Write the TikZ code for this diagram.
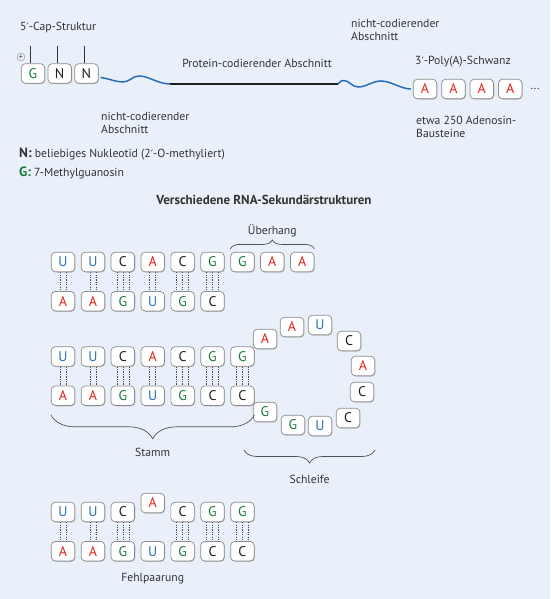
\documentclass[tikz,border=0pt]{standalone}
\usepackage{fontspec}
\setmainfont{PT Sans}
\newfontfamily\primefont{DejaVu Sans}
\usetikzlibrary{positioning, decorations.pathreplacing, shadows}
\definecolor{bgblue}{HTML}{E9F0F9}
\definecolor{ntblue}{HTML}{2A6EBB}
\definecolor{ntred}{HTML}{E2231A}
\definecolor{ntgreen}{HTML}{1E7A3C}
\definecolor{ntblack}{HTML}{1E1E1E}
\definecolor{boxgray}{HTML}{8C8C8C}
\definecolor{txtgray}{HTML}{333333}
\newcommand{\primechar}{{\primefont\fontsize{10}{10}\selectfont ′}}
\newcommand{\twobond}[2]{%
  \draw[bond] ([xshift=-3pt]#1.south) -- ([xshift=-3pt]#2.north);
  \draw[bond] ([xshift=3pt]#1.south) -- ([xshift=3pt]#2.north);}
\newcommand{\threebond}[2]{%
  \draw[bond] ([xshift=-6pt]#1.south) -- ([xshift=-6pt]#2.north);
  \draw[bond] (#1.south) -- (#2.north);
  \draw[bond] ([xshift=6pt]#1.south) -- ([xshift=6pt]#2.north);}

\begin{document}
\begin{tikzpicture}[x=1pt, y=-1pt,
    node distance=19pt and 5.7pt,
    nt/.style={draw=boxgray, fill=white, text=#1, rounded corners=4pt, minimum width=23.5pt, minimum height=19.5pt,
      inner sep=0pt, line width=0.7pt, font=\fontsize{14}{14}\selectfont,
      drop shadow={shadow xshift=0.7pt, shadow yshift=-0.8pt, fill=black!40, opacity=0.6}},
    lbl/.style={text=txtgray, font=\fontsize{11.7}{13}\selectfont, inner sep=0pt},
    bond/.style={draw=black!70, line width=0.6pt, dash pattern=on 1.3pt off 1.1pt},
    capline/.style={draw=txtgray, line width=0.6pt},
    wave/.style={draw=ntblue, line width=1.5pt},
    strand/.style={draw=ntblack, line width=1.5pt},
    brace/.style={decorate, decoration={brace, amplitude=#1}, draw=txtgray!85, line width=0.7pt}
  ]
  \fill[bgblue] (0,0) rectangle (550,599);
  \useasboundingbox (0,0) rectangle (550,599);

  % mRNA
  \node[lbl, anchor=west] (caplbl) at (20,28) {5\primechar-Cap-Struktur};
  \node[nt=ntgreen] (g) at (33,73.5) {G};
  \node[nt=ntblack, right=2.5pt of g] (n1) {N};
  \node[nt=ntblack, right=2.5pt of n1] (n2) {N};
  \draw[capline] ([xshift=-3pt]g.north) -- ++(0,-17);
  \draw[capline] ([xshift=-2pt]n1.north) -- ++(0,-17);
  \draw[capline] ([xshift=-2pt]n2.north) -- ++(0,-17);
  \node[draw=boxgray, circle, inner sep=0pt, minimum size=8pt, text=txtgray, font=\fontsize{8}{8}\selectfont] (capplus) at (21,57) {+};

  \coordinate (cs) at (170,84);
  \coordinate (ce) at (338,84);
  \node[nt=ntred] (a1) at (425,89) {A};
  \node[nt=ntred, right=4.2pt of a1] (a2) {A};
  \node[nt=ntred, right=4.2pt of a2] (a3) {A};
  \node[nt=ntred, right=4.2pt of a3] (a4) {A};
  \node[lbl, right=8pt of a4] (dots) {...};

  \draw[wave] ([xshift=2pt,yshift=-4pt]n2.east) .. controls +(8,1) and +(-7,0) .. (123,82)
    .. controls +(7,0) and +(-7,0) .. (139,76) .. controls +(10,0) and +(-12,0) .. (cs);
  \draw[strand] (cs) -- (ce);
  \draw[wave] (ce) .. controls +(3,-3) and +(-3,0) .. (344,80.5) .. controls +(5,0) and +(-6,0) .. (358,87)
    .. controls +(8,0) and +(-8,0) .. (381,81) .. controls +(10,0) and +(-10,0) .. ([xshift=-2pt]a1.west);

  \node[lbl] (protlbl) at (257,63) {Protein-codierender Abschnitt};
  \node[lbl, anchor=west, align=left] (nc3lbl) at (351,30) {nicht-codierender\\Abschnitt};
  \node[lbl, anchor=west] (polylbl) at (415,62) {3\primechar-Poly(A)-Schwanz};
  \node[lbl, anchor=west, align=left] (adelbl) at (416,127) {etwa 250 Adenosin-\\Bausteine};
  \node[lbl, anchor=west, align=left] (nc5lbl) at (101,122.5) {nicht-codierender\\Abschnitt};
  \node[lbl, anchor=west] (nkey) at (19,154) {{\bfseries\fontsize{13.5}{13}\selectfont N:} beliebiges Nukleotid (2\primechar-O-methyliert)};
  \node[lbl, anchor=west] (gkey) at (19,173) {{\bfseries\fontsize{13.5}{13}\selectfont\color{ntgreen}G:} 7-Methylguanosin};
  \node[lbl, font=\fontsize{13}{13}\selectfont\bfseries] (title) at (264,200) {Verschiedene RNA-Sekundärstrukturen};

  % Ueberhang
  \node[nt=ntblue] (s1t1) at (63,262) {U};
  \node[nt=ntblue, right=of s1t1] (s1t2) {U};
  \node[nt=ntblack, right=of s1t2] (s1t3) {C};
  \node[nt=ntred, right=of s1t3] (s1t4) {A};
  \node[nt=ntblack, right=of s1t4] (s1t5) {C};
  \node[nt=ntgreen, right=of s1t5] (s1t6) {G};
  \node[nt=ntgreen, right=of s1t6] (s1t7) {G};
  \node[nt=ntred, right=of s1t7] (s1t8) {A};
  \node[nt=ntred, right=of s1t8] (s1t9) {A};
  \node[nt=ntred, below=of s1t1] (s1b1) {A};
  \node[nt=ntred, below=of s1t2] (s1b2) {A};
  \node[nt=ntgreen, below=of s1t3] (s1b3) {G};
  \node[nt=ntblue, below=of s1t4] (s1b4) {U};
  \node[nt=ntgreen, below=of s1t5] (s1b5) {G};
  \node[nt=ntblack, below=of s1t6] (s1b6) {C};
  \twobond{s1t1}{s1b1} \twobond{s1t2}{s1b2} \threebond{s1t3}{s1b3}
  \twobond{s1t4}{s1b4} \threebond{s1t5}{s1b5} \threebond{s1t6}{s1b6}
  \draw[brace=9pt] ([yshift=3pt]s1t7.north west) -- node[lbl, above=12pt] (uelbl) {Überhang} ([yshift=3pt]s1t9.north east);

  % Stamm und Schleife
  \node[nt=ntblue] (s2t1) at (63,356.5) {U};
  \node[nt=ntblue, right=of s2t1] (s2t2) {U};
  \node[nt=ntblack, right=of s2t2] (s2t3) {C};
  \node[nt=ntred, right=of s2t3] (s2t4) {A};
  \node[nt=ntblack, right=of s2t4] (s2t5) {C};
  \node[nt=ntgreen, right=of s2t5] (s2t6) {G};
  \node[nt=ntgreen, right=of s2t6] (s2t7) {G};
  \node[nt=ntred, below=of s2t1] (s2b1) {A};
  \node[nt=ntred, below=of s2t2] (s2b2) {A};
  \node[nt=ntgreen, below=of s2t3] (s2b3) {G};
  \node[nt=ntblue, below=of s2t4] (s2b4) {U};
  \node[nt=ntgreen, below=of s2t5] (s2b5) {G};
  \node[nt=ntblack, below=of s2t6] (s2b6) {C};
  \node[nt=ntblack, below=of s2t7] (s2b7) {C};
  \twobond{s2t1}{s2b1} \twobond{s2t2}{s2b2} \threebond{s2t3}{s2b3}
  \twobond{s2t4}{s2b4} \threebond{s2t5}{s2b5} \threebond{s2t6}{s2b6}
  \threebond{s2t7}{s2b7}
  \node[nt=ntred] (l1) at (265,339) {A};
  \node[nt=ntred] (l2) at (292,327) {A};
  \node[nt=ntblue] (l3) at (320,325) {U};
  \node[nt=ntblack] (l4) at (349,341) {C};
  \node[nt=ntred] (l5) at (363,366) {A};
  \node[nt=ntblack] (l6) at (362,392) {C};
  \node[nt=ntblack] (l7) at (348,418) {C};
  \node[nt=ntblue] (l8) at (320,426) {U};
  \node[nt=ntgreen] (l9) at (293,425) {G};
  \node[nt=ntgreen] (l10) at (265,412) {G};
  \draw[brace=24pt] ([yshift=-9pt]s2b7.south east) -- node[lbl, below=33.5pt] (stlbl) {Stamm} ([yshift=-9pt]s2b1.south west);
  \coordinate (schl) at (244,450);
  \coordinate (schr) at (375,450);
  \draw[brace=13pt] (schr) -- node[lbl, below=24.5pt] (schlbl) {Schleife} (schl);

  % Fehlpaarung
  \node[nt=ntblue] (s3t1) at (63,512) {U};
  \node[nt=ntblue, right=of s3t1] (s3t2) {U};
  \node[nt=ntblack, right=of s3t2] (s3t3) {C};
  \node[nt=ntred, below=of s3t1] (s3b1) {A};
  \node[nt=ntred, right=of s3b1] (s3b2) {A};
  \node[nt=ntgreen, right=of s3b2] (s3b3) {G};
  \node[nt=ntblue, right=of s3b3] (s3b4) {U};
  \node[nt=ntgreen, right=of s3b4] (s3b5) {G};
  \node[nt=ntblack, right=of s3b5] (s3b6) {C};
  \node[nt=ntblack, right=of s3b6] (s3b7) {C};
  \node[nt=ntred, above=28pt of s3b4] (s3x) {A};
  \node[nt=ntblack, above=of s3b5] (s3t5) {C};
  \node[nt=ntgreen, above=of s3b6] (s3t6) {G};
  \node[nt=ntgreen, above=of s3b7] (s3t7) {G};
  \twobond{s3t1}{s3b1} \twobond{s3t2}{s3b2} \threebond{s3t3}{s3b3}
  \threebond{s3t5}{s3b5} \threebond{s3t6}{s3b6} \threebond{s3t7}{s3b7}
  \node[lbl, below=12pt of s3b4] (fplbl) {Fehlpaarung};
\end{tikzpicture}
\end{document}
